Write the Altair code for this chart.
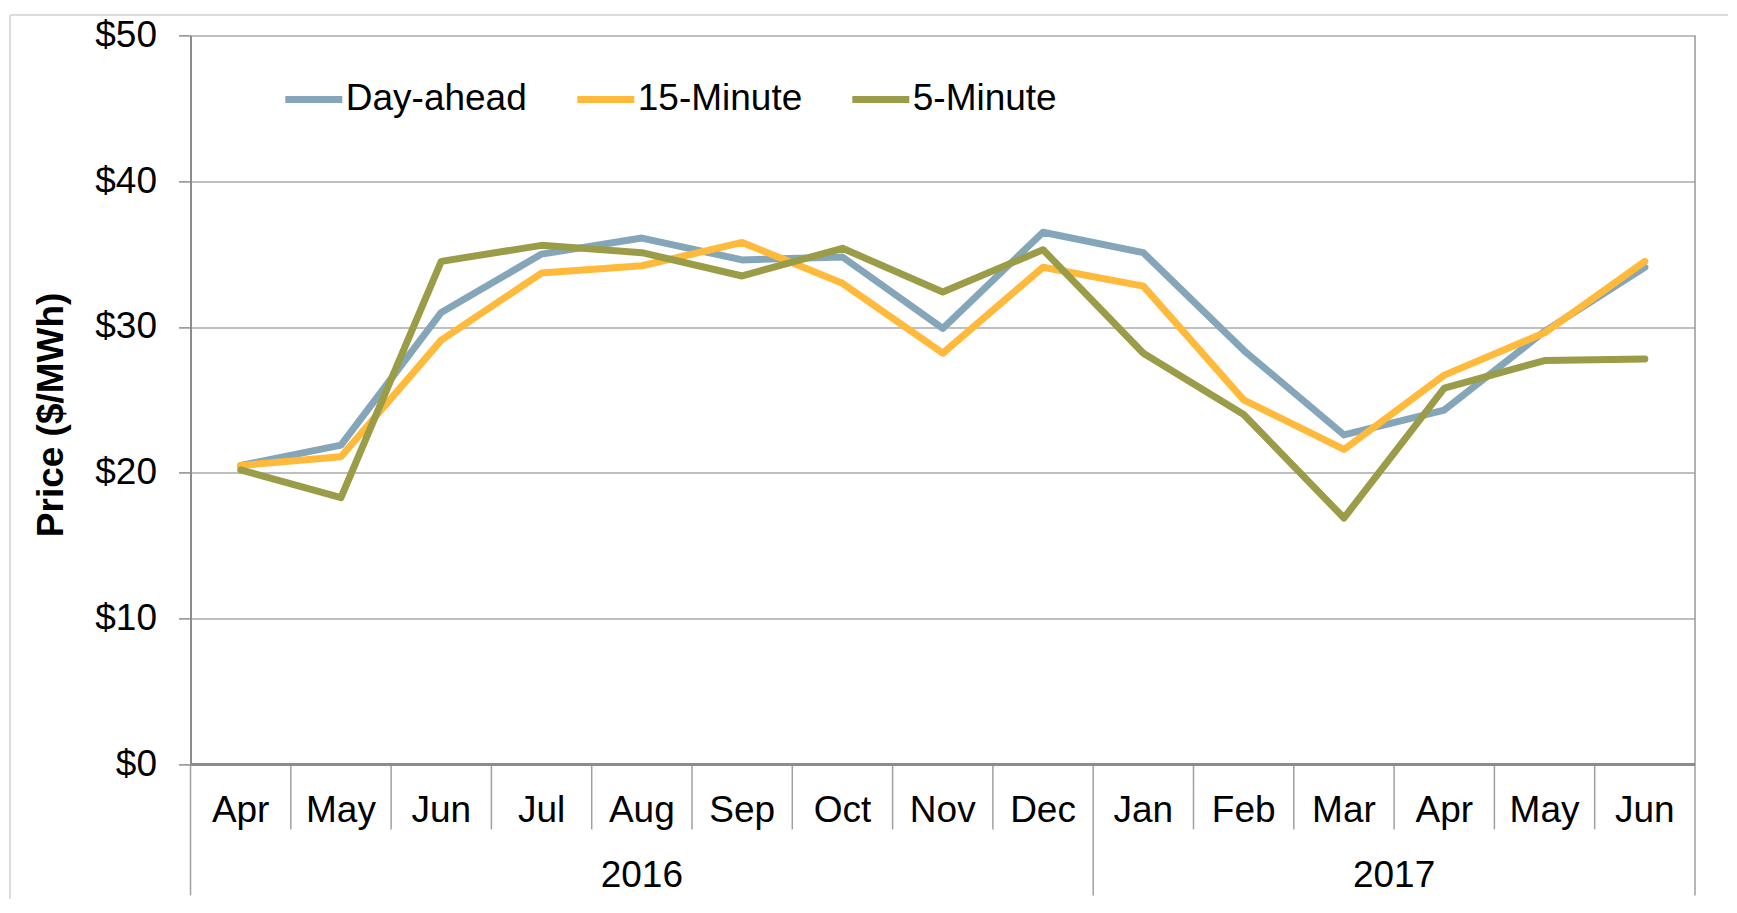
import altair as alt
import pandas as pd

# ---- data ----
months = ["Apr", "May", "Jun", "Jul", "Aug", "Sep", "Oct", "Nov", "Dec",
          "Jan", "Feb", "Mar", "Apr", "May", "Jun"]
years = ["2016"] * 9 + ["2017"] * 6
series_names = ["Day-ahead", "15-Minute", "5-Minute"]
day_ahead = [20.5, 21.9, 31.0, 35.0, 36.1, 34.6, 34.8, 29.9, 36.5, 35.1, 28.4, 22.6, 24.3, 29.7, 34.1]
fifteen_min = [20.5, 21.1, 29.1, 33.7, 34.2, 35.8, 33.0, 28.2, 34.1, 32.8, 25.0, 21.6, 26.7, 29.6, 34.5]
five_min = [20.2, 18.3, 34.5, 35.6, 35.1, 33.5, 35.4, 32.4, 35.3, 28.2, 24.0, 16.9, 25.8, 27.7, 27.8]
y_ticks = [0, 10, 20, 30, 40, 50]
colors = ["#85A6B9", "#FFB93B", "#9A9C48"]

FONT = "Liberation Sans"
W, H = 1504.5, 729

rows = []
for name, vals in zip(series_names, [day_ahead, fifteen_min, five_min]):
    for i, v in enumerate(vals):
        rows.append({"series": name, "pos": i + 0.5, "price": v})
df = pd.DataFrame(rows)

month_df = pd.DataFrame({"pos": [i + 0.5 for i in range(len(months))], "month": months})

year_rows = []
for y in sorted(set(years)):
    idx = [i for i, yy in enumerate(years) if yy == y]
    year_rows.append({"year": y, "pos": (idx[0] + idx[-1] + 1) / 2})
year_df = pd.DataFrame(year_rows)

year_bounds = [0] + [i for i in range(1, len(years)) if years[i] != years[i - 1]]
month_bounds = [i for i in range(1, len(months)) if i not in year_bounds]
mdiv_df = pd.DataFrame({"b": month_bounds})
ydiv_df = pd.DataFrame({"b": year_bounds})
rdiv_df = pd.DataFrame({"b": [len(months)]})

xscale = alt.Scale(domain=[0, len(months)], nice=False, zero=False)
yscale = alt.Scale(domain=[0, 50], nice=False)

lines = alt.Chart(df).mark_line(strokeWidth=7, strokeCap="round", strokeJoin="round").encode(
    x=alt.X("pos:Q", scale=xscale, axis=None),
    y=alt.Y("price:Q", scale=yscale, axis=alt.Axis(
        values=y_ticks, labelExpr="'$' + datum.value",
        labelFont=FONT, labelFontSize=37, labelColor="black", labelPadding=22,
        tickSize=12, tickColor="#8C8C8C", tickWidth=1.5,
        domainColor="#8C8C8C", domainWidth=2,
        grid=True, gridColor="#BFBFBF", gridWidth=2,
        title="Price ($/MWh)", titleFont=FONT, titleFontSize=37, titleFontWeight="bold",
        titleColor="black", titleAngle=-90, titleX=-139.5, titleY=379,
        titleBaseline="middle", titleAlign="center")),
    color=alt.Color("series:N", scale=alt.Scale(domain=series_names, range=colors),
                    sort=series_names,
                    legend=alt.Legend(
                        orient="none", legendX=91.3, legendY=32, direction="horizontal",
                        title=None, symbolType="stroke", symbolSize=3249,
                        symbolStrokeWidth=7, labelFont=FONT, labelFontSize=37,
                        labelColor="black", labelOffset=0, columnPadding=35, padding=0,
                        labelLimit=0)),
)

mdiv = alt.Chart(mdiv_df).mark_rule(color="#A0A0A0", strokeWidth=1.5).encode(
    x=alt.X("b:Q", scale=xscale, axis=None), y=alt.value(H), y2=alt.value(H + 65))
ydiv = alt.Chart(ydiv_df).mark_rule(color="#A0A0A0", strokeWidth=1.5).encode(
    x=alt.X("b:Q", scale=xscale, axis=None), y=alt.value(H), y2=alt.value(H + 131))
rdiv = alt.Chart(rdiv_df).mark_rule(color="#A0A0A0", strokeWidth=1.5).encode(
    x=alt.X("b:Q", scale=xscale, axis=None), y=alt.value(0), y2=alt.value(H + 131))

zero_line = alt.Chart(pd.DataFrame({"v": [0]})).mark_rule(color="#8C8C8C", strokeWidth=3).encode(
    y=alt.Y("v:Q", scale=yscale))

month_text = alt.Chart(month_df).mark_text(font=FONT, fontSize=37, color="black",
                                           baseline="alphabetic", align="center").encode(
    x=alt.X("pos:Q", scale=xscale, axis=None), y=alt.value(H + 58), text="month:N")
year_text = alt.Chart(year_df).mark_text(font=FONT, fontSize=37, color="black",
                                         baseline="alphabetic", align="center").encode(
    x=alt.X("pos:Q", scale=xscale, axis=None), y=alt.value(H + 123), text="year:N")

# outer chart-area border
border_top = alt.Chart(pd.DataFrame({"k": [0]})).mark_rule(color="#D0D0D0", strokeWidth=1.5).encode(
    x=alt.value(-180.5), x2=alt.value(W + 34), y=alt.value(-20.4))
border_left = alt.Chart(pd.DataFrame({"k": [0]})).mark_rule(color="#D0D0D0", strokeWidth=1.5).encode(
    x=alt.value(-180.5), y=alt.value(-20.4), y2=alt.value(H + 135))
border_right = alt.Chart(pd.DataFrame({"k": [0]})).mark_rule(color="#D0D0D0", strokeWidth=1.5).encode(
    x=alt.value(W + 34), y=alt.value(-20.4), y2=alt.value(H + 135))

chart = alt.layer(
    border_top, border_left, border_right,
    mdiv, ydiv, rdiv, zero_line, month_text, year_text, lines
).properties(
    width=W, height=H,
    autosize=alt.AutoSizeParams(type="none"),
    padding={"left": 182.5, "top": 27.4, "right": 33, "bottom": 135},
).configure_view(stroke=None).configure(background="white")

chart.save("out.html", embed_options={"renderer": "svg", "actions": False})
